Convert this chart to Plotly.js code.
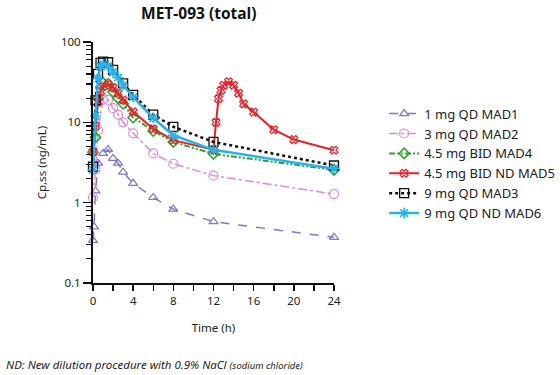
<!DOCTYPE html>
<html><head><meta charset="utf-8">
<script src="https://cdn.plot.ly/plotly-3.0.1.min.js"></script>
<style>body{margin:0;background:#fff}#c{width:560px;height:375px}</style>
</head><body><div id="c"></div>
<script>
// Series data (time in h, concentration in ng/mL)
const names = ["1 mg QD MAD1","3 mg QD MAD2","4.5 mg BID MAD4","4.5 mg BID ND MAD5","9 mg QD MAD3","9 mg QD ND MAD6"];

const t_mad1 = [0, 0.1, 0.25, 0.5, 1, 1.5, 2, 2.5, 3, 4, 6, 8, 12, 24];
const c_mad1 = [0.34, 0.5, 1.4, 3.1, 4.1, 4.6, 3.55, 3.1, 2.4, 1.74, 1.16, 0.83, 0.58, 0.37];

const t_mad2 = [0, 0.25, 0.5, 1, 1.5, 2, 2.5, 3, 4, 6, 8, 12, 24];
const c_mad2 = [1.16, 2.6, 8, 19.2, 19, 15, 12.5, 10, 7.3, 4.1, 3.05, 2.17, 1.28];

const t_mad4 = [0, 0.25, 0.5, 1, 1.5, 2, 2.5, 3, 4, 6, 8, 12, 24];
const c_mad4 = [4.25, 6.5, 20, 31, 30, 24, 20, 17, 11.5, 7.8, 5.7, 4.05, 2.56];

const t_mad5 = [0, 0.25, 0.5, 0.75, 1, 1.5, 2, 2.5, 3, 4, 6, 8, 12, 12.25, 12.5, 12.75, 13, 13.5, 14, 14.5, 15, 16, 18, 20, 24];
const c_mad5 = [4.3, 9, 18, 24, 28, 30, 27, 23, 19, 13.5, 8.3, 6.0, 4.55, 10, 19.7, 25, 29, 32, 29, 23, 17, 13.4, 8.1, 6.1, 4.5];

const t_mad3 = [0, 0.25, 0.5, 0.75, 1, 1.5, 2, 3, 4, 6, 8, 12, 24];
const c_mad3 = [2.8, 18.8, 40, 55, 57, 56, 45, 30.5, 22, 12.5, 8.8, 5.7, 2.9];

const t_mad6 = [0, 0.25, 0.5, 0.75, 1, 1.5, 2, 2.5, 3, 4, 6, 8, 12, 24];
const c_mad6 = [2.56, 12, 35, 50, 53, 50, 42, 36, 29, 20.6, 11.3, 6.9, 4.55, 2.65];

const xTicks = [0, 4, 8, 12, 16, 20, 24];
const yTicks = [0.1, 1, 10, 100];
const yTickText = ["0.1", "1", "10", "100"];

const traces = [
  {x: t_mad1, y: c_mad1, name: names[0], mode: "lines+markers",
   line: {color: "#7a76d0", width: 1.5, dash: "dash"},
   marker: {symbol: "triangle-up-open", size: 8, color: "#7a76d0", line: {width: 1.2}}},
  {x: t_mad2, y: c_mad2, name: names[1], mode: "lines+markers",
   line: {color: "#e08ad6", width: 1.5, dash: "dashdot"},
   marker: {symbol: "circle-open", size: 9, color: "#e08ad6", line: {width: 1.2}}},
  {x: t_mad4, y: c_mad4, name: names[2], mode: "lines+markers",
   line: {color: "#2fa22f", width: 2, dash: "6px,2px,2px,2px,2px,2px"},
   marker: {symbol: "diamond-open", size: 8, color: "#2fa22f", line: {width: 1.5}}},
  {x: t_mad5, y: c_mad5, name: names[3], mode: "lines+markers",
   line: {color: "#e8202a", width: 2},
   marker: {symbol: "x-open", size: 7, color: "#e8202a", line: {width: 1.2}}},
  {x: t_mad3, y: c_mad3, name: names[4], mode: "lines+markers",
   line: {color: "#111111", width: 2.5, dash: "dot"},
   marker: {symbol: "square-open", size: 9, color: "#111111", line: {width: 1.3}}},
  {x: t_mad6, y: c_mad6, name: names[5], mode: "lines+markers",
   line: {color: "#26b2ea", width: 2.5},
   marker: {symbol: "asterisk-open", size: 9, color: "#26b2ea", line: {width: 1.6, color: "#26b2ea"}}}
];
traces.forEach(t => t.cliponaxis = false);

const layout = {
  width: 560, height: 375,
  margin: {l: 93, r: 226, t: 42, b: 92},
  paper_bgcolor: "#ffffff", plot_bgcolor: "#ffffff",
  font: {family: "Noto Sans, Open Sans, sans-serif", color: "#222"},
  title: {text: "<b>MET-093 (total)</b>", x: 0.355, xanchor: "center", y: 0.963, yanchor: "middle",
          font: {family: "Open Sans", size: 15.5, color: "#111"}},
  xaxis: {
    range: [0, 24], tickvals: xTicks, ticktext: xTicks.map(String),
    showgrid: false, zeroline: false, showline: true, linecolor: "#111", linewidth: 2,
    ticks: "outside", ticklen: 6, tickwidth: 1.5, tickcolor: "#111",
    minor: {dtick: 2, tick0: 0, ticks: "outside", ticklen: 6, tickwidth: 1.5, tickcolor: "#111", showgrid: false},
    tickfont: {size: 11.5, color: "#222"},
    title: {text: "Time (h)", standoff: 17, font: {size: 11.5, color: "#222"}}
  },
  yaxis: {
    type: "log", range: [-1, 2], tickvals: yTicks, ticktext: yTickText,
    showgrid: false, zeroline: false, showline: true, linecolor: "#111", linewidth: 2,
    ticks: "outside", ticklen: 8, tickwidth: 1.5, tickcolor: "#111",
    minor: {dtick: "D1", ticks: "outside", ticklen: 5, tickwidth: 1.2, tickcolor: "#111", showgrid: false},
    tickfont: {size: 11.5, color: "#222"},
    title: {text: "Cp,ss (ng/mL)", standoff: 12, font: {size: 11.5, color: "#222"}}
  },
  legend: {
    xref: "container", yref: "container",
    x: 0.686, xanchor: "left", y: 0.737, yanchor: "top",
    font: {size: 13, color: "#222"}, bgcolor: "rgba(0,0,0,0)", itemwidth: 30,
    tracegroupgap: 0
  },
  showlegend: true,
  annotations: [{
    xref: "paper", yref: "paper", x: -0.369, y: -0.34, xanchor: "left", yanchor: "middle",
    showarrow: false, align: "left",
    text: "<i>ND: New dilution procedure with 0.9% NaCl <span style='font-size:9.5px'>(sodium chloride)</span></i>",
    font: {size: 11.5, color: "#222"}
  }]
};

Plotly.newPlot("c", traces, layout, {displayModeBar: false, staticPlot: true});
</script>
</body></html>
